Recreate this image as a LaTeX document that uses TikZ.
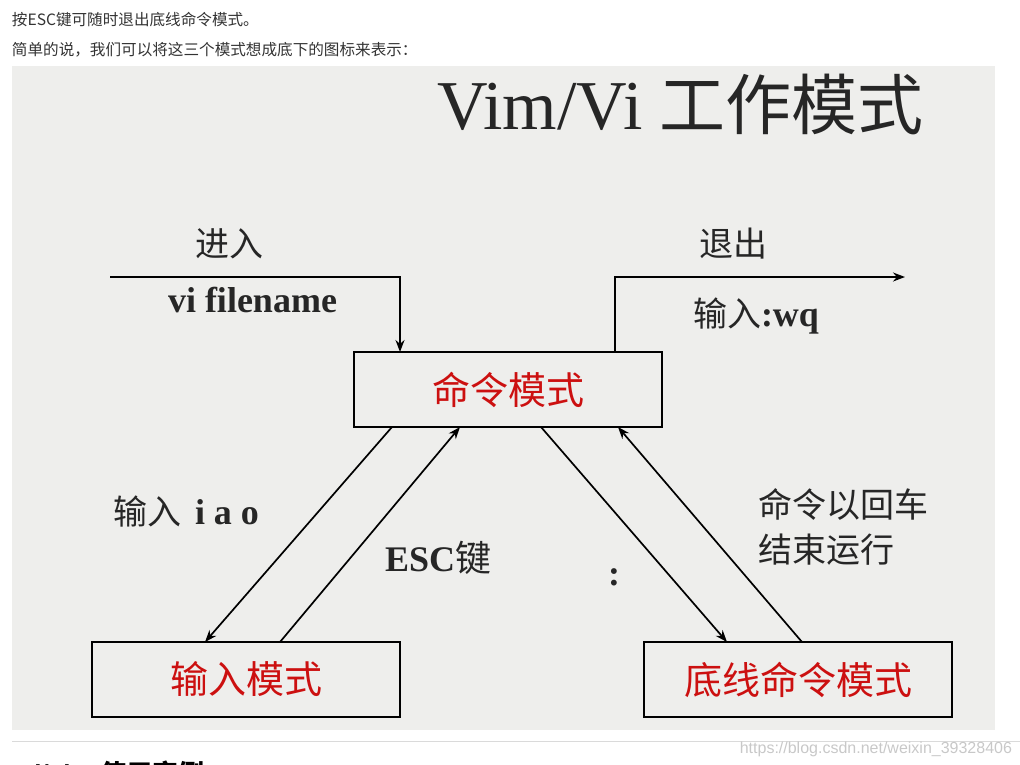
\documentclass[tikz,border=0pt]{standalone}
\usepackage{fontspec}
\setmainfont{Liberation Serif}
\newfontfamily\cjk{Noto Sans CJK SC}
\newfontfamily\websans{Liberation Sans}
\usetikzlibrary{arrows.meta}

\definecolor{panelgray}{RGB}{238,238,236}
\definecolor{modered}{RGB}{204,16,16}
\definecolor{inkgray}{RGB}{38,38,38}
\definecolor{webtext}{RGB}{51,51,51}
\definecolor{rulegray}{RGB}{218,218,218}
\definecolor{markgray}{RGB}{200,200,200}

\begin{document}
\begin{tikzpicture}[x=1pt, y=-1pt,
  every node/.style={inner sep=0pt, outer sep=0pt},
  webline/.style={anchor=base west, text=webtext, font=\cjk\fontsize{15.6}{18}\selectfont},
  mode/.style={draw=black, line width=2.6pt, fill=panelgray, minimum width=308pt,
    minimum height=75pt, text=modered, font=\cjk\fontsize{38}{38}\selectfont},
  flow/.style={line width=1.7pt, -{Stealth[length=12pt,width=9pt]}},
  lbl/.style={text=inkgray, font=\fontsize{34}{40}\selectfont},
  bold/.style={lbl, font=\bfseries\fontsize{36}{40}\selectfont},
]
\useasboundingbox (0,0) rectangle (1020,764);
% page text around the figure
\node[webline] (intro1) at (12,25) {按ESC键可随时退出底线命令模式。};
\node[webline] (intro2) at (12,55) {简单的说，我们可以将这三个模式想成底下的图标来表示：};
\fill[panelgray] (12,66) rectangle (995,730);
\draw[rulegray, line width=1pt] (12,741) -- (1020,741);
\node[anchor=base east, text=markgray, font=\websans\fontsize{16}{16}\selectfont] (mark)
  at (1012,753) {https://blog.csdn.net/weixin\textunderscore 39328406};
\node[anchor=base west, text=black, font=\websans\bfseries\fontsize{26}{26}\selectfont] (nexthead)
  at (20,783) {vi/vim {\cjk 使用实例}};
% title
\node[anchor=base west, text=inkgray, font=\fontsize{70}{70}\selectfont] (title)
  at (437,129) {Vim/Vi {\cjk\fontsize{66}{66}\selectfont 工作模式}};
% the three modes
\node[mode] (cmd) at (508,389.5) {命令模式};
\node[mode] (ins) at (246,679.5) {输入模式};
\node[mode] (last) at (798,679.5) {底线命令模式};
% enter and leave
\coordinate (enter) at (110,277);
\coordinate (leave) at (905,277);
\draw[flow] (enter) -| ([xshift=-108pt]cmd.north);
\draw[flow] ([xshift=107pt]cmd.north) |- (leave);
\node[lbl, anchor=base] (enterlbl) at (229,256) {\cjk 进入};
\node[bold, anchor=base west] (viname) at (168,312) {vi filename};
\node[lbl, anchor=base] (leavelbl) at (733,256) {\cjk 退出};
\node[lbl, anchor=base west] (wqlbl) at (693,326) {{\cjk 输入}{\bfseries\fontsize{36}{40}\selectfont:wq}};
% transitions between the modes
\draw[flow] ([xshift=-116pt]cmd.south) -- ([xshift=-41pt]ins.north);
\draw[flow] ([xshift=34pt]ins.north) -- ([xshift=-48pt]cmd.south);
\draw[flow] ([xshift=33pt]cmd.south) -- ([xshift=-71pt]last.north);
\draw[flow] ([xshift=4pt]last.north) -- ([xshift=110pt]cmd.south);
\node[lbl, anchor=base west] (iaolbl) at (113,524) {{\cjk 输入}\hspace{14pt}{\bfseries\fontsize{36}{40}\selectfont i a o}};
\node[bold, anchor=base west] (esclbl) at (385,571) {ESC{\cjk\mdseries 键}};
\node[bold, anchor=base] (colonlbl) at (614,585) {:};
\node[lbl, anchor=base west] (note1) at (758,517) {\cjk 命令以回车};
\node[lbl, anchor=base west] (note2) at (758,562) {\cjk 结束运行};
\end{tikzpicture}
\end{document}
